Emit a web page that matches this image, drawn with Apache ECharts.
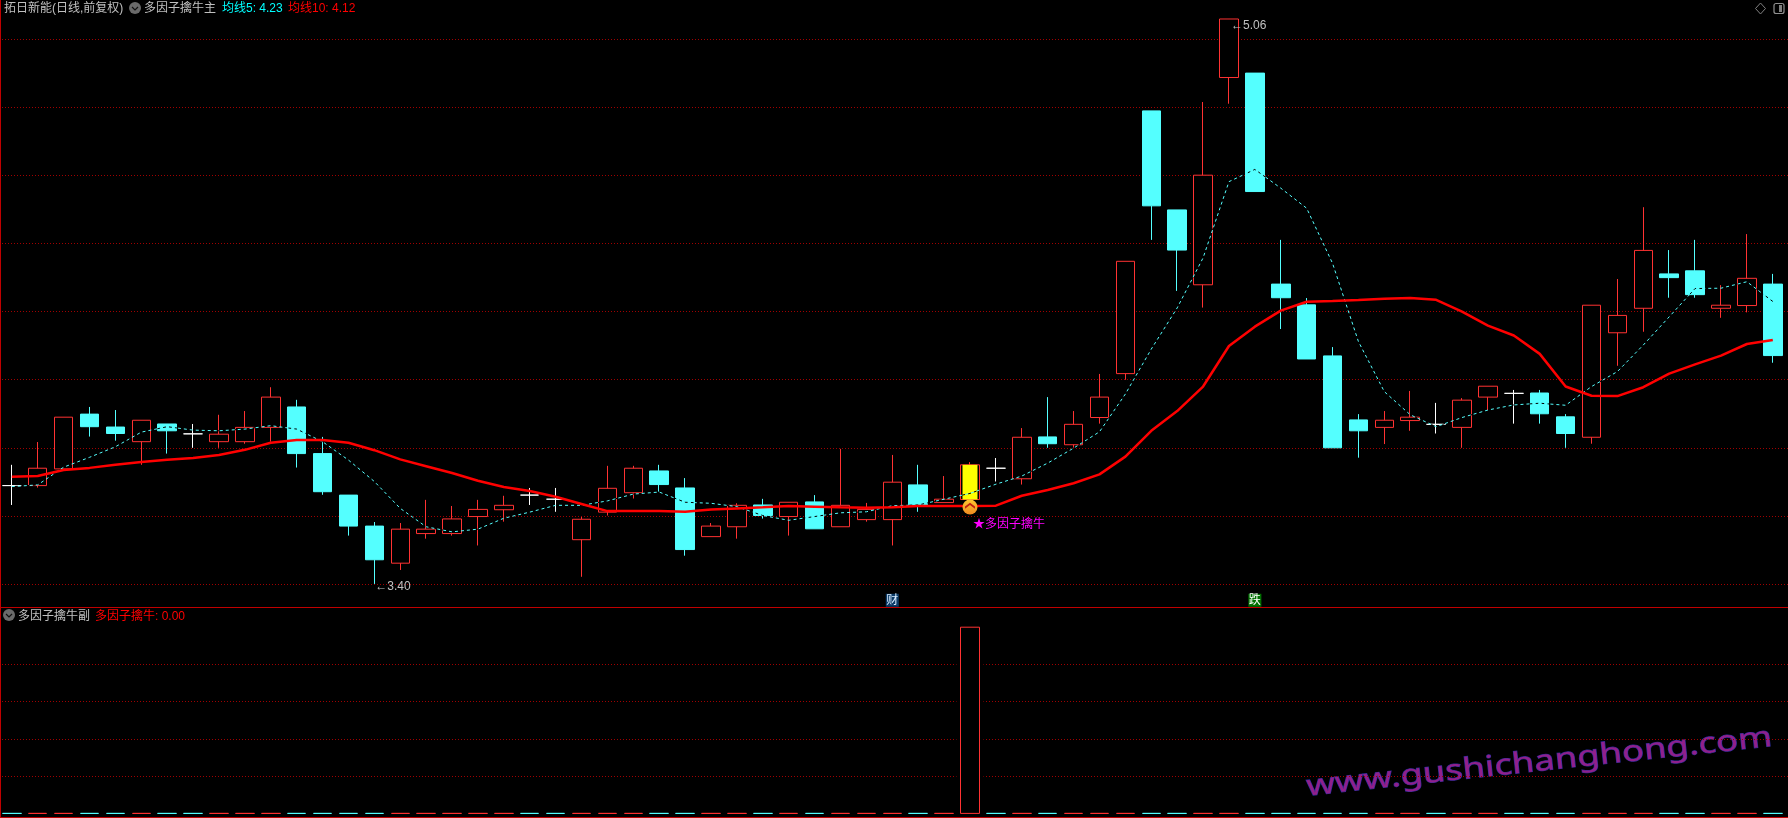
<!DOCTYPE html>
<html><head><meta charset="utf-8">
<style>html,body{margin:0;padding:0;background:#000}#c{width:1788px;height:818px}</style>
<script src="https://cdn.jsdelivr.net/npm/echarts@6/dist/echarts.min.js"></script>
</head><body><div id="c"></div>
<script>
const openP=[3.689,3.689,3.738,3.899,3.861,3.818,3.870,3.841,3.818,3.818,3.860,3.920,3.783,3.661,3.570,3.461,3.548,3.548,3.598,3.618,3.661,3.649,3.530,3.611,3.668,3.732,3.682,3.539,3.568,3.632,3.598,3.641,3.568,3.589,3.589,3.691,3.639,3.648,3.740,3.709,3.832,3.809,3.889,4.018,4.790,4.499,4.279,4.888,4.901,4.281,4.220,4.070,3.882,3.860,3.880,3.869,3.860,3.949,3.960,3.961,3.891,3.831,4.138,4.210,4.311,4.320,4.210,4.218,4.281];
const closeP=[3.689,3.740,3.890,3.862,3.842,3.881,3.850,3.841,3.840,3.860,3.949,3.783,3.671,3.570,3.471,3.561,3.561,3.591,3.619,3.631,3.661,3.649,3.590,3.681,3.740,3.692,3.501,3.570,3.631,3.601,3.640,3.562,3.631,3.619,3.699,3.633,3.649,3.750,3.740,3.831,3.812,3.869,3.949,4.348,4.511,4.381,4.601,5.060,4.553,4.241,4.061,3.800,3.850,3.881,3.890,3.869,3.940,3.981,3.960,3.900,3.842,4.219,4.189,4.380,4.300,4.250,4.219,4.298,4.071];
const lowP=[3.632,3.683,3.735,3.833,3.821,3.750,3.783,3.800,3.800,3.812,3.818,3.742,3.662,3.542,3.400,3.441,3.533,3.542,3.513,3.583,3.632,3.612,3.421,3.601,3.651,3.670,3.483,3.539,3.533,3.592,3.542,3.562,3.568,3.583,3.513,3.612,3.639,3.648,3.701,3.692,3.800,3.800,3.871,4.000,4.411,4.261,4.212,4.811,4.553,4.149,4.061,3.800,3.771,3.811,3.850,3.842,3.800,3.911,3.871,3.871,3.800,3.812,4.041,4.141,4.241,4.241,4.182,4.198,4.050];
const highP=[3.750,3.817,3.890,3.920,3.911,3.881,3.870,3.870,3.897,3.908,3.978,3.941,3.832,3.661,3.582,3.579,3.647,3.629,3.647,3.659,3.682,3.682,3.597,3.747,3.747,3.750,3.711,3.579,3.637,3.650,3.640,3.661,3.797,3.638,3.779,3.750,3.717,3.758,3.770,3.858,3.949,3.908,4.017,4.348,4.790,4.499,4.816,5.060,4.901,4.411,4.240,4.096,3.899,3.908,3.967,3.932,3.946,3.981,3.970,3.970,3.899,4.219,4.296,4.507,4.381,4.411,4.278,4.428,4.311];
const ma5=[3.686,3.691,3.743,3.772,3.803,3.846,3.862,3.852,3.850,3.855,3.865,3.855,3.818,3.764,3.701,3.622,3.568,3.553,3.561,3.593,3.611,3.631,3.631,3.644,3.664,3.670,3.640,3.637,3.627,3.601,3.587,3.598,3.609,3.612,3.630,3.632,3.649,3.666,3.693,3.717,3.755,3.799,3.847,3.958,4.090,4.211,4.358,4.582,4.618,4.563,4.504,4.342,4.112,3.965,3.897,3.862,3.889,3.911,3.926,3.931,3.925,3.980,4.024,4.102,4.185,4.268,4.269,4.288,4.230];
const ma10=[3.715,3.717,3.735,3.741,3.750,3.758,3.765,3.770,3.779,3.794,3.815,3.823,3.823,3.815,3.793,3.766,3.746,3.726,3.703,3.685,3.673,3.656,3.635,3.614,3.614,3.614,3.612,3.619,3.622,3.625,3.629,3.627,3.625,3.624,3.625,3.629,3.629,3.629,3.630,3.659,3.676,3.696,3.722,3.774,3.850,3.908,3.980,4.099,4.156,4.203,4.229,4.231,4.234,4.238,4.240,4.235,4.200,4.159,4.130,4.076,3.980,3.953,3.952,3.978,4.018,4.045,4.071,4.105,4.117];
const subSignal=[0,0,0,0,0,0,0,0,0,0,0,0,0,0,0,0,0,0,0,0,0,0,0,0,0,0,0,0,0,0,0,0,0,0,0,0,0,1,0,0,0,0,0,0,0,0,0,0,0,0,0,0,0,0,0,0,0,0,0,0,0,0,0,0,0,0,0,0,0];
const categories=openP.map((_,i)=>String(i+1));
const signalIndex=subSignal.indexOf(1);
const UP='#ff3232',DOWN='#54ffff',GRID='#a00000',BORDER='#c00000',TXT='#c0c0c0';
const FONT='"Liberation Sans","Noto Sans CJK SC",sans-serif';

const styleOf=(o,c)=>{
  if(o===c) return {color:'#fff',color0:'#fff',borderColor:'#fff',borderColor0:'#fff',borderColorDoji:'#fff',borderWidth:1};
  if(c>o) return {color:'#000',color0:'#000',borderColor:UP,borderColor0:UP,borderWidth:1};
  return {color:DOWN,color0:DOWN,borderColor:DOWN,borderColor0:DOWN,borderWidth:1};
};
const mainData=categories.map((_,i)=>({value:[openP[i],closeP[i],lowP[i],highP[i]],itemStyle:styleOf(openP[i],closeP[i])}));
const yellowData=categories.map((_,i)=>i===signalIndex?[openP[i],closeP[i],openP[i],closeP[i]]:[NaN,NaN,NaN,NaN]);
const subData=categories.map((_,i)=>{
  const rising=closeP[i]>openP[i];
  const col=(rising||subSignal[i]?UP:DOWN);
  return {value:[0,subSignal[i],0,subSignal[i]],itemStyle:{color:'#000',color0:'#000',borderColor:col,borderColor0:col,borderColorDoji:col,borderWidth:1}};
});
const maskData=subSignal.map(v=>v?v:null);
const markText=(coord,text,color,offset,name)=>({name,coord,symbolSize:0,label:{show:true,formatter:text,color,fontSize:12,fontFamily:FONT,position:'right',distance:0,offset}});
const chart=echarts.init(document.getElementById('c'),null,{renderer:'canvas'});
const hdr=(x,y,t,c)=>({type:'text',x,y,silent:true,style:{text:t,fill:c,font:'12px '+FONT}});
const chev=(cx,cy)=>({type:'group',silent:true,children:[
  {type:'circle',shape:{cx,cy,r:6},style:{fill:'#6a6a6a'}},
  {type:'polyline',shape:{points:[[cx-3,cy-1],[cx,cy+2],[cx+3,cy-1]]},style:{stroke:'#111',lineWidth:1.2,fill:null}}]});
const hide={axisLabel:{show:false},axisLine:{show:false},axisTick:{show:false}};
const splitCfg={show:true,showMinLine:false,showMaxLine:false,lineStyle:{color:GRID,width:1,type:[1,2]}};
chart.setOption({
  animation:false,backgroundColor:'#000',
  grid:[
    {left:11.8,width:1761,top:0,height:652,show:false},
    {left:11.8,width:1761,top:627.2,height:186.2,show:false},
    {left:2,width:1786,top:0,height:652,show:false},
    {left:2,width:1786,top:627.2,height:186.2,show:false}],
  xAxis:[
    {type:'category',gridIndex:0,data:categories,boundaryGap:false,show:false},
    {type:'category',gridIndex:1,data:categories,boundaryGap:false,show:false},
    {type:'category',gridIndex:2,data:categories,show:false},
    {type:'category',gridIndex:3,data:categories,show:false}],
  yAxis:[
    Object.assign({type:'value',gridIndex:0,min:3.2,max:5.1158,interval:0.2,splitLine:{show:false}},hide),
    Object.assign({type:'value',gridIndex:1,min:0,max:1,interval:0.2,splitLine:{show:false}},hide),
    Object.assign({type:'value',gridIndex:2,min:3.2,max:5.1158,interval:0.2,splitLine:splitCfg},hide),
    Object.assign({type:'value',gridIndex:3,min:0,max:1,interval:0.2,splitLine:splitCfg},hide)],
  series:[
    {name:'K线',type:'candlestick',xAxisIndex:0,yAxisIndex:0,data:mainData,barWidth:19,clip:false,z:2,
     markPoint:{silent:true,animation:false,z:8,data:[
       markText([14,3.40],'←3.40',TXT,[1,3],'low'),
       markText([47,5.06],'←5.06',TXT,[2,7],'high'),
       {name:'signal',coord:[signalIndex,3.626],symbol:'circle',symbolSize:15,itemStyle:{color:{type:'linear',x:0,y:0,x2:0,y2:1,colorStops:[{offset:0,color:'#ffc830'},{offset:1,color:'#f08a20'}]}},label:{show:false}},
       {name:'chevron',coord:[signalIndex,3.630],symbol:'path://M0 5 L5 0 L10 5 L10 8 L5 3 L0 8 Z',symbolSize:[10,6],itemStyle:{color:'#c02010'},label:{show:false}},
       markText([signalIndex,3.573],'★多因子擒牛','#ff00ff',[3,0],'sig'),
       {name:'财',coord:[34,3.352],symbol:'rect',symbolSize:13,itemStyle:{color:'#0b3a66'},label:{show:true,position:'inside',formatter:'财',color:'#d8ecff',fontSize:12,fontFamily:FONT}},
       {name:'跌',coord:[48,3.352],symbol:'rect',symbolSize:13,itemStyle:{color:'#007000'},label:{show:true,position:'inside',formatter:'跌',color:'#fff',fontSize:12,fontFamily:FONT}}
     ]}},
    {name:'信号',type:'candlestick',xAxisIndex:0,yAxisIndex:0,data:yellowData,barWidth:15,clip:false,z:3,
     itemStyle:{color:'#ffff00',color0:'#ffff00',borderColor:'#ffff00',borderColor0:'#ffff00',borderWidth:0}},
    {name:'均线5底',type:'line',xAxisIndex:0,yAxisIndex:0,data:ma5,showSymbol:false,smooth:false,clip:false,z:4,lineStyle:{color:'#000',width:1,type:[3,3],dashOffset:3}},
    {name:'均线5',type:'line',xAxisIndex:0,yAxisIndex:0,data:ma5,showSymbol:false,smooth:false,clip:false,z:5,lineStyle:{color:DOWN,width:1,type:[3,3]}},
    {name:'均线10',type:'line',xAxisIndex:0,yAxisIndex:0,data:ma10,showSymbol:false,smooth:false,clip:false,z:6,lineStyle:{color:'#ff0000',width:2.5}},
    {name:'遮罩',type:'bar',xAxisIndex:1,yAxisIndex:1,data:maskData,barWidth:27,z:2,itemStyle:{color:'#000'}},
    {name:'多因子擒牛',type:'candlestick',xAxisIndex:1,yAxisIndex:1,data:subData,barWidth:19,clip:false,z:3}
  ],
  graphic:[
    {type:'line',silent:true,shape:{x1:0.5,y1:0,x2:0.5,y2:818},style:{stroke:BORDER,lineWidth:1}},
    {type:'line',silent:true,shape:{x1:0,y1:607.5,x2:1788,y2:607.5},style:{stroke:BORDER,lineWidth:1}},
    {type:'line',silent:true,shape:{x1:0,y1:817.5,x2:1788,y2:817.5},style:{stroke:BORDER,lineWidth:1}},
    hdr(4,3,'拓日新能(日线,前复权)',TXT),
    chev(135,8),
    hdr(144,3,'多因子擒牛主',TXT),
    hdr(222,3,'均线5: 4.23','#00ffff'),
    hdr(288,3,'均线10: 4.12','#ff0000'),
    {type:'polygon',silent:true,shape:{points:[[1760.5,3],[1765.5,8.5],[1760.5,14],[1755.5,8.5]]},style:{fill:null,stroke:'#808080',lineWidth:1}},
    {type:'rect',silent:true,shape:{x:1774,y:3.5,width:10,height:10,r:2},style:{fill:null,stroke:'#909090',lineWidth:1.2}},
    {type:'rect',silent:true,shape:{x:1779,y:5,width:3,height:7},style:{fill:'#808080'}},
    chev(9,615),
    hdr(18,611,'多因子擒牛副',TXT),
    hdr(95,611,'多因子擒牛: 0.00','#ff0000'),
    {type:'text',silent:true,x:1305,y:773,rotation:6.1*Math.PI/180,scaleX:1.26,scaleY:1,originX:0,originY:0,
     style:{text:'www.gushichanghong.com',font:'29px "Noto Sans",sans-serif',fill:'#90208c',stroke:'#2c2c9c',lineWidth:1}}
  ]
});
</script></body></html>
